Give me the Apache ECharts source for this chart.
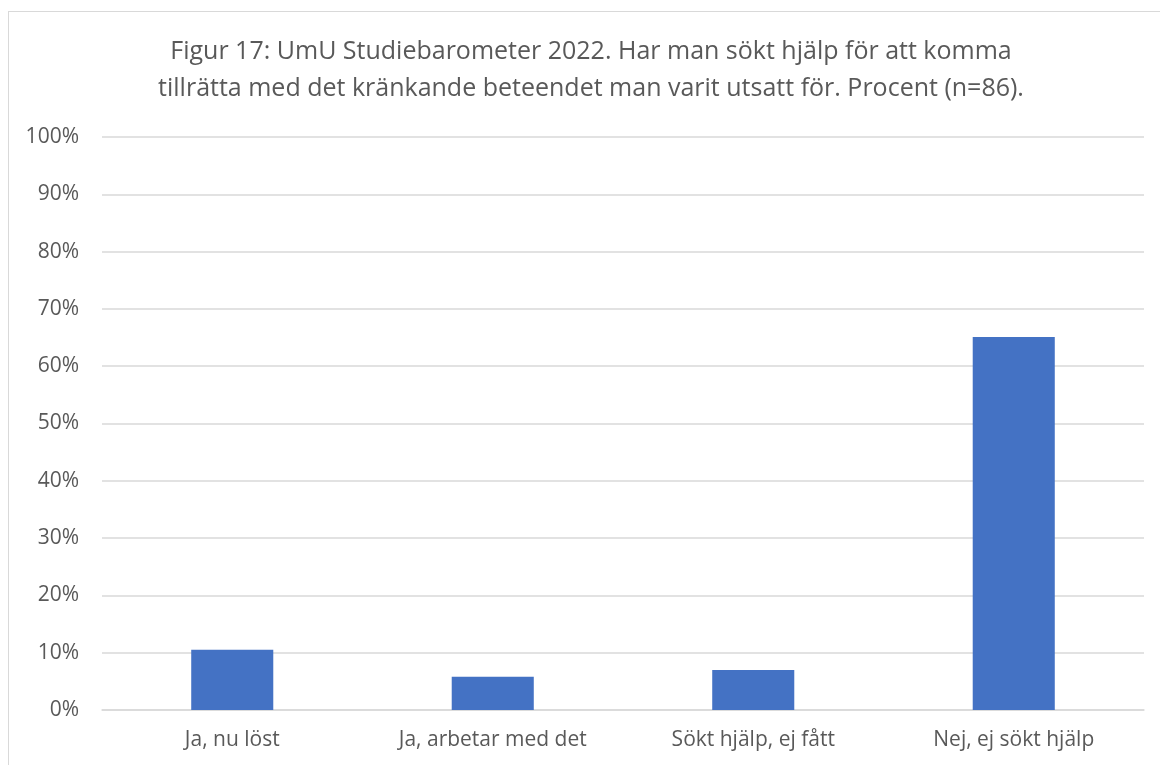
<!DOCTYPE html>
<html>
<head>
<meta charset="utf-8">
<script src="https://cdn.jsdelivr.net/npm/echarts@6/dist/echarts.min.js"></script>
<style>
  html, body { margin: 0; padding: 0; background: #fff; }
  #frame { position: absolute; left: 8px; top: 11px; width: 1160px; height: 780px; border: 1px solid #d9d9d9; box-sizing: border-box; }
  #chart { position: absolute; left: 0; top: 0; width: 1160px; height: 765px; }
</style>
</head>
<body>
<div id="frame"></div>
<div id="chart"></div>
<script>
var categories = ['Ja, nu löst', 'Ja, arbetar med det', 'Sökt hjälp, ej fått', 'Nej, ej sökt hjälp'];
var values = [10.5, 5.8, 7.0, 65.1];
var titleLines = [
    'Figur 17: UmU Studiebarometer 2022. Har man sökt hjälp för att komma',
    'tillrätta med det kränkande beteendet man varit utsatt för. Procent (n=86).'
];

var chartDom = document.getElementById('chart');
var myChart = echarts.init(chartDom);
var font = '"Open Sans", sans-serif';

var option = {
    animation: false,
    title: {
        text: titleLines.join('\n'),
        left: 586,
        top: 28,
        textAlign: 'center',
        textStyle: {
            fontFamily: font,
            fontSize: 25,
            fontWeight: 'normal',
            color: '#595959',
            lineHeight: 37
        }
    },
    grid: {
        left: 102,
        right: 16,
        top: 137,
        bottom: 55,
        containLabel: false
    },
    xAxis: {
        type: 'category',
        data: categories,
        axisLine: { show: true, lineStyle: { color: '#d9d9d9', width: 1.5 } },
        axisTick: { show: false },
        axisLabel: {
            margin: 20,
            fontFamily: font,
            fontSize: 21,
            color: '#595959'
        }
    },
    yAxis: {
        type: 'value',
        min: 0,
        max: 100,
        interval: 10,
        axisLine: { show: false },
        axisTick: { show: false },
        splitLine: { lineStyle: { color: '#d9d9d9', width: 1.5 } },
        axisLabel: {
            margin: 23,
            fontFamily: font,
            fontSize: 21,
            color: '#595959',
            formatter: '{value}%'
        }
    },
    series: [
        {
            type: 'bar',
            data: values,
            barWidth: '31.5%',
            itemStyle: { color: '#4472c4' }
        }
    ]
};

myChart.setOption(option);
</script>
</body>
</html>
